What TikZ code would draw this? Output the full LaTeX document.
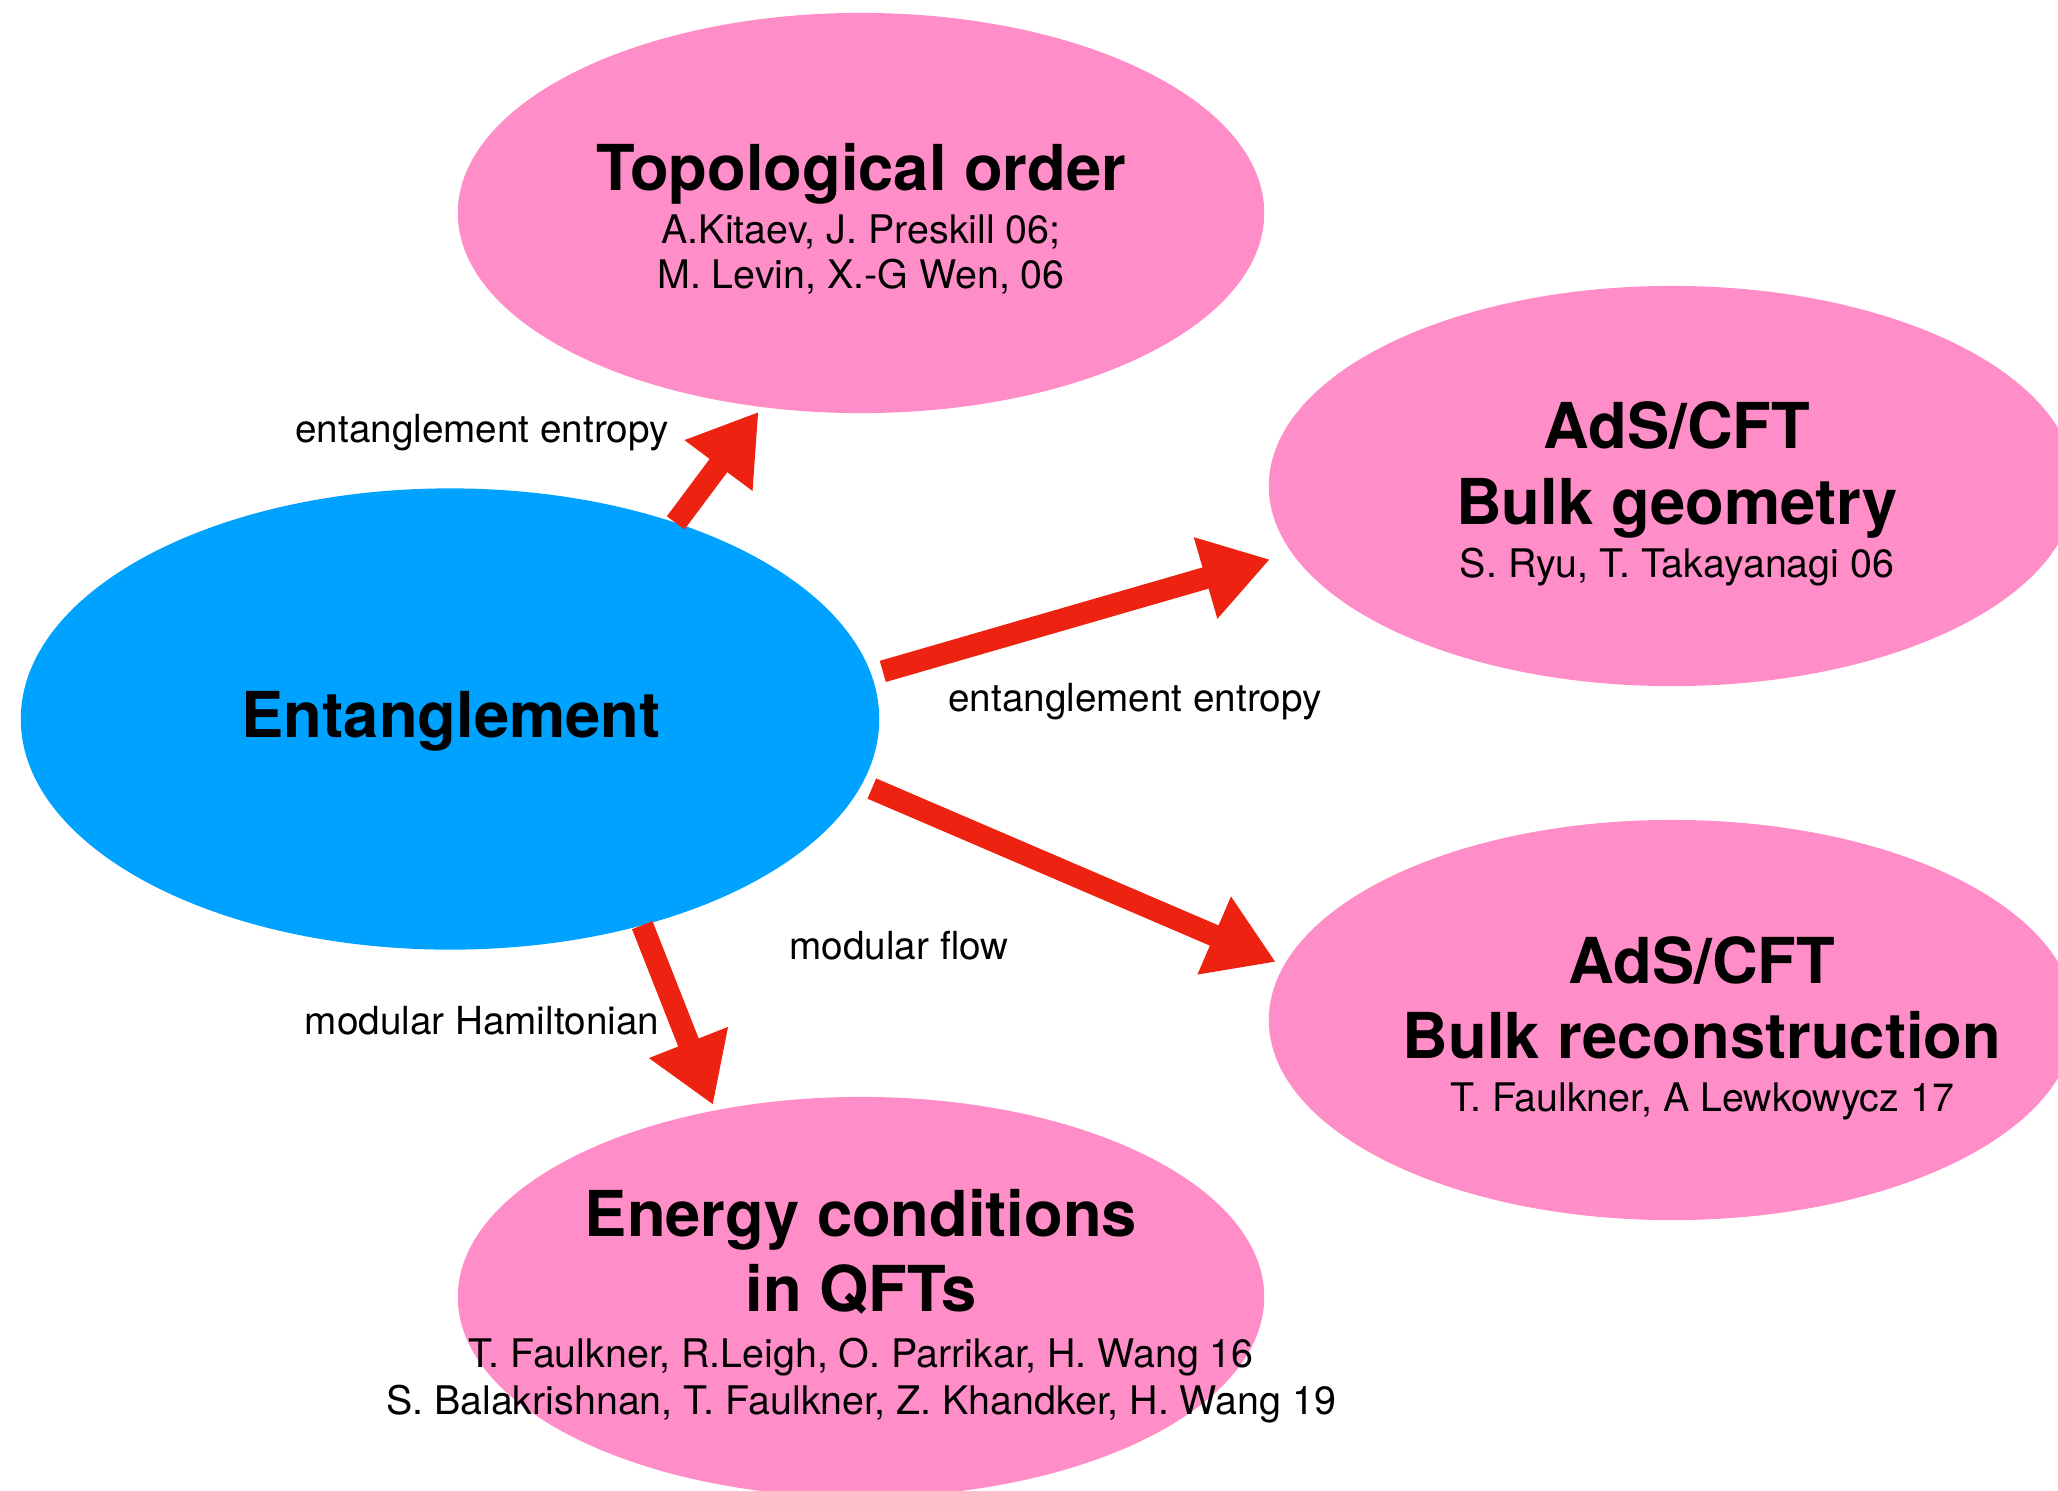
\documentclass[tikz,border=0pt]{standalone}
\usepackage{fontspec}
\setmainfont{TeX Gyre Heros}
\usetikzlibrary{shapes.geometric, arrows.meta}

\definecolor{topicpink}{RGB}{255,141,199}
\definecolor{corecyan}{RGB}{0,162,255}
\definecolor{pushred}{RGB}{238,34,16}

\newcommand{\ttl}[1]{{\fontsize{18}{21.5}\selectfont\bfseries #1}}
\newcommand{\reffont}{\fontsize{11.2}{12.8}\selectfont\lineskiplimit=-50pt\relax}

\tikzset{
	topic/.style={ellipse, fill=topicpink, minimum width=8.06cm, minimum height=4cm, inner sep=0pt, outer sep=0pt},
	core/.style={ellipse, fill=corecyan, minimum width=8.58cm, minimum height=4.61cm, inner sep=0pt, outer sep=0pt},
	body/.style={align=center, inner sep=0pt, font=\reffont},
	hint/.style={inner sep=0pt, font=\fontsize{11}{13}\selectfont},
	push/.style={draw=pushred, line width=0.22cm, -{Triangle[length=0.67cm, width=0.8cm]}},
}

\begin{document}
\begin{tikzpicture}[x=0.01cm, y=-0.01cm]
	\useasboundingbox (0,0) rectangle (2058,1490);
	\clip (0,0) rectangle (2058,1490);

	% bubbles
	\node[core] (ent) at (450,719) {};
	\node[topic] (topo) at (861,213) {};
	\node[topic] (geo) at (1672,486) {};
	\node[topic] (rec) at (1672,1020) {};
	\node[topic] (qft) at (861,1297) {};

	\node[body] (ent-txt) at (451,721) {\ttl{Entanglement}};
	\node[body] (topo-txt) at (861,219) {\ttl{Topological order}\\[2.2pt]
		A.Kitaev, J. Preskill 06;\\ M. Levin, X.-G Wen, 06};
	\node[body] (geo-txt) at (1677,494) {\ttl{AdS/CFT}\\[8.7pt] \ttl{Bulk geometry}\\[2.2pt]
		S. Ryu, T. Takayanagi 06};
	\node[body] (rec-txt) at (1702,1028) {\ttl{AdS/CFT}\\[8.7pt] \ttl{Bulk reconstruction}\\[2.2pt]
		T. Faulkner, A Lewkowycz 17};
	\node[body] (qft-txt) at (861,1306) {\ttl{Energy conditions}\\[8.7pt] \ttl{in QFTs}\\[3pt]
		T. Faulkner, R.Leigh, O. Parrikar, H. Wang 16\\[0.6pt]
		S. Balakrishnan, T. Faulkner, Z. Khandker, H. Wang 19};

	% arrows
	\draw[push, shorten >=0.06cm] (ent.41.8) -- (topo.243.1);
	\draw[push, shorten <=0.12cm, shorten >=0.23cm] (ent.6) -- (geo.190);
	\draw[push, shorten <=0.11cm, shorten >=0.09cm] (ent.-9.5) -- (rec.172.5);
	\draw[push, shorten >=0.06cm] (ent.-47.9) -- (qft.128.3);

	\node[hint] (ee-top) at (482,433) {entanglement entropy};
	\node[hint] (ee-right) at (1135,702) {entanglement entropy};
	\node[hint] (mod-flow) at (899,946) {modular flow};
	\node[hint] (mod-ham) at (482,1021) {modular Hamiltonian};
\end{tikzpicture}
\end{document}
